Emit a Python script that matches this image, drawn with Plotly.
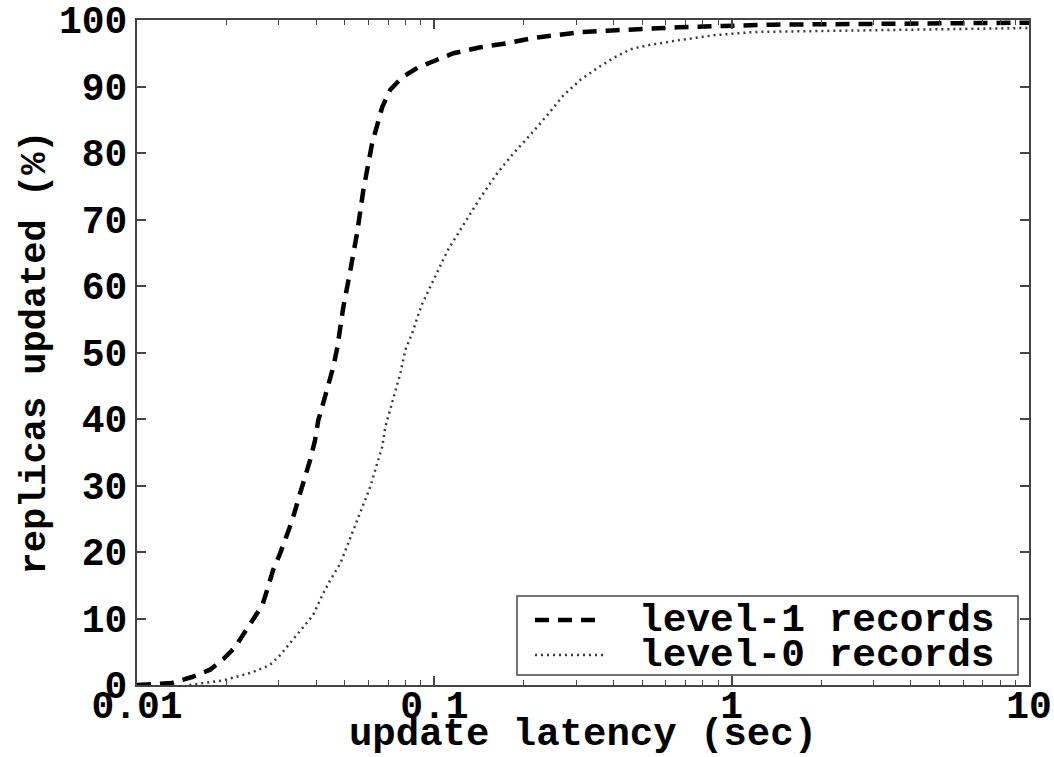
import plotly.graph_objects as go

# ---- data ----
level1_x = [0.01, 0.0131, 0.0153, 0.0176, 0.0195, 0.0214, 0.0227, 0.0246, 0.0264, 0.0274,
            0.0287, 0.0303, 0.0318, 0.0333, 0.0348, 0.0368, 0.0382, 0.0397, 0.0407, 0.0423,
            0.0440, 0.0457, 0.0472, 0.0483, 0.0494, 0.052, 0.055, 0.0577, 0.0618, 0.0668,
            0.0711, 0.078, 0.0877, 0.0993, 0.116, 0.143, 0.176, 0.215, 0.259, 0.315,
            0.382, 0.457, 0.546, 0.658, 0.94, 1.38, 10]
level1_y = [0, 0.3, 1.2, 2.3, 3.9, 5.7, 7.5, 9.8, 12, 14.3,
            17.3, 19.8, 22.3, 24.8, 27.8, 31.3, 33.8, 36.8, 39.8, 42.4,
            45.1, 47.8, 50.8, 53.8, 56.8, 62, 68, 74.4, 81.5, 86.9,
            89.5, 91.4, 92.8, 93.8, 95, 95.9, 96.5, 97.3, 97.7, 98.2,
            98.4, 98.6, 98.8, 98.9, 99.1, 99.3, 99.6]

level0_x = [0.015, 0.0195, 0.0240, 0.0280, 0.0303, 0.0335, 0.0362, 0.0391, 0.0420, 0.0447,
            0.0483, 0.0530, 0.0572, 0.0609, 0.0643, 0.0668, 0.0684, 0.0711, 0.0739, 0.0769,
            0.0799, 0.0843, 0.0877, 0.0912, 0.111, 0.141, 0.163, 0.185, 0.210, 0.240,
            0.272, 0.310, 0.354, 0.401, 0.457, 0.521, 0.673, 0.869, 1.186, 10]
level0_y = [0, 0.7, 1.8, 3.0, 4.5, 6.8, 8.7, 10.5, 13.5, 15.8,
            18.3, 22.9, 26.8, 29.8, 33.4, 35.8, 38.8, 41.4, 43.9, 46.9,
            50.4, 52.9, 55.3, 57.4, 65.4, 72.9, 77, 80, 82.7, 85.7,
            88.7, 91, 92.8, 94.3, 95.6, 96.2, 97, 97.7, 98.2, 98.8]

series_names = ["level-1 records", "level-0 records"]
x_tickvals = [0.01, 0.1, 1, 10]
x_ticktext = ["0.01", "0.1", "1", "10"]
y_tickvals = [0, 10, 20, 30, 40, 50, 60, 70, 80, 90, 100]
x_title = "update latency (sec)"
y_title = "replicas updated (%)"

# ---- styles ----
FONT = "Liberation Mono, Courier New, monospace"
dash_style = dict(color="black", width=4.5, dash="14px,9px")
dot_style = dict(color="#3a3a3a", width=2.5, dash="2px,4px")
AX = "#444444"

fig = go.Figure()
fig.add_trace(go.Scatter(x=level1_x, y=level1_y, mode="lines", line=dash_style,
                         name=series_names[0], showlegend=False))
fig.add_trace(go.Scatter(x=level0_x, y=level0_y, mode="lines", line=dot_style,
                         name=series_names[1], showlegend=False))

minor_vals = [m * d for d in (0.01, 0.1, 1) for m in range(2, 10)]

fig.update_xaxes(type="log", range=[-2, 1], tickvals=x_tickvals, ticktext=x_ticktext,
                 ticks="inside", ticklen=9, tickwidth=1.5, tickcolor=AX,
                 minor=dict(tickvals=minor_vals, ticks="inside", ticklen=5, tickwidth=1, tickcolor=AX),
                 showline=True, linecolor=AX, linewidth=2, mirror="ticks",
                 showgrid=False, zeroline=False, ticklabelstandoff=-15,
                 tickfont=dict(family=FONT, size=38, color="black", weight="bold"),
                 title=dict(text=x_title, font=dict(family=FONT, size=39, color="black", weight="bold"),
                            standoff=22))
fig.update_yaxes(range=[0, 100], tickvals=y_tickvals,
                 ticks="inside", ticklen=9, tickwidth=1.5, tickcolor=AX,
                 showline=True, linecolor=AX, linewidth=2, mirror="ticks",
                 showgrid=False, zeroline=False,
                 tickfont=dict(family=FONT, size=38, color="black", weight="bold"),
                 title=dict(text=y_title, font=dict(family=FONT, size=37, color="black", weight="bold"),
                            standoff=2))

# ---- legend drawn as box + sample lines + text ----
def px2x(px):
    return (px - 137) / 892.0

def py2y(py):
    return (685 - py) / 665.0

shapes = [dict(type="rect", xref="paper", yref="paper",
               x0=px2x(517), x1=px2x(1018), y0=py2y(675), y1=py2y(596),
               line=dict(color=AX, width=1.5), fillcolor="white", layer="above")]
rows = [(620, dash_style), (655, dot_style)]
annotations = []
for (ry, st), name in zip(rows, series_names):
    shapes.append(dict(type="line", xref="paper", yref="paper",
                       x0=px2x(535), x1=px2x(603), y0=py2y(ry), y1=py2y(ry),
                       line=st, layer="above"))
    annotations.append(dict(xref="paper", yref="paper", x=px2x(637), y=py2y(ry),
                            xanchor="left", yanchor="middle", text=name, showarrow=False,
                            font=dict(family=FONT, size=39.5, color="black", weight="bold")))

fig.update_layout(width=1054, height=757,
                  margin=dict(l=137, r=25, t=20, b=72, autoexpand=False),
                  plot_bgcolor="white", paper_bgcolor="white",
                  shapes=shapes, annotations=annotations, showlegend=False)

fig.write_html("out.html")
